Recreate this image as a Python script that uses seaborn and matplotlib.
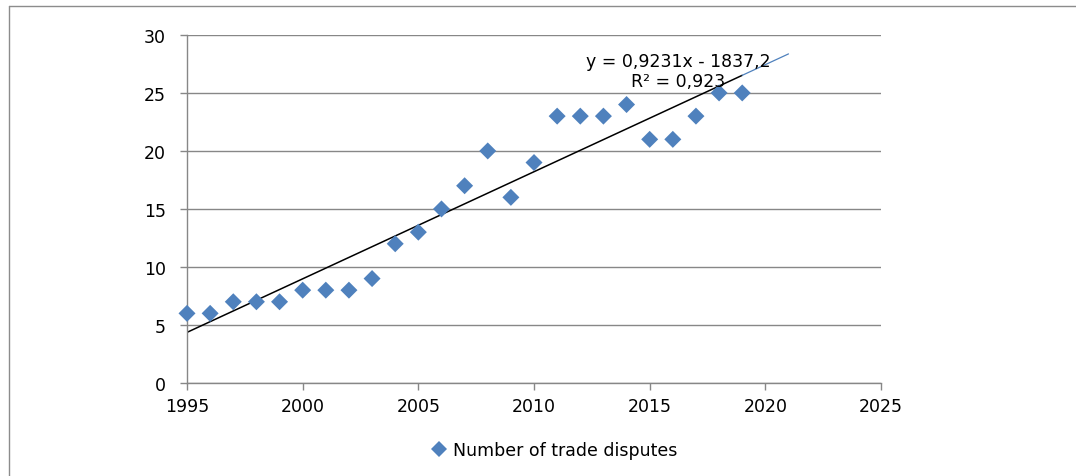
import numpy as np
import pandas as pd
import matplotlib
matplotlib.use("Agg")
import matplotlib.pyplot as plt
from matplotlib.lines import Line2D
import seaborn as sns

years = [1995, 1996, 1997, 1998, 1999, 2000, 2001, 2002, 2003, 2004, 2005, 2006,
         2007, 2008, 2009, 2010, 2011, 2012, 2013, 2014, 2015, 2016, 2017, 2018, 2019]
disputes = [6, 6, 7, 7, 7, 8, 8, 8, 9, 12, 13, 15, 17, 20, 16, 19, 23, 23, 23, 24,
            21, 21, 23, 25, 25]
series_label = "Number of trade disputes"
eq_text = "y = 0,9231x - 1837,2"
r2_text = "R² = 0,923"
x_ticks = [1995, 2000, 2005, 2010, 2015, 2020, 2025]
y_ticks = [0, 5, 10, 15, 20, 25, 30]

df = pd.DataFrame({"year": years, "value": disputes})

sns.set_theme(style="white")
plt.rcParams['font.family'] = ['DejaVu Sans']
plt.rcParams['text.color'] = 'black'

fig = plt.figure(figsize=(10.76, 4.77), dpi=100)
ax = fig.add_axes([0.1738, 0.195, 0.645, 0.7297])

gray = "#878787"
fs = 12.5
ax.set_xlim(1995, 2025)
ax.set_ylim(0, 30)
ax.set_xticks(x_ticks)
ax.set_yticks(y_ticks)
ax.grid(axis="y", color=gray, linewidth=1.0)
ax.set_axisbelow(True)

# trendline
slope, intercept = np.polyfit(df["year"], df["value"], 1)
tx = np.array([years[0], years[-1]])
ax.plot(tx, slope * tx + intercept, color="black", linewidth=1.1, zorder=2)
fx = np.array([years[-1], years[-1] + 2])
ax.plot(fx, slope * fx + intercept, color="#4F81BD", linewidth=0.9, zorder=2)

sns.scatterplot(data=df, x="year", y="value", marker="D", s=75, color="#4F81BD",
                edgecolor="none", ax=ax, zorder=3, label=series_label, clip_on=False)

for s in ["top", "right"]:
    ax.spines[s].set_visible(False)
for s in ["left", "bottom"]:
    ax.spines[s].set_color(gray)
    ax.spines[s].set_linewidth(1.0)
ax.tick_params(axis="both", which="both", direction="out", length=5, color=gray,
               width=1.0, labelsize=fs, labelcolor="black", left=True, bottom=True)
ax.tick_params(axis="y", pad=10)
ax.tick_params(axis="x", pad=5)
ax.set_xlabel("")
ax.set_ylabel("")

ax.text(2016.25, 27.75, eq_text, ha="center", va="center", fontsize=fs, color="black")
ax.text(2016.25, 26.05, r2_text, ha="center", va="center", fontsize=fs, color="black")

ax.legend_.remove()
handle = Line2D([], [], marker="D", linestyle="none", color="#4F81BD", markersize=8,
                markeredgewidth=0)
leg = fig.legend([handle], [series_label], loc="center", bbox_to_anchor=(0.515, 0.054),
                 frameon=False, fontsize=fs, handletextpad=0.3, handlelength=1.0)
for t in leg.get_texts():
    t.set_color("black")

# outer chart border
fig.add_artist(Line2D([9 / 1076, 9 / 1076], [0, 1 - 7 / 477], color="#8c8c8c",
                      linewidth=1.0, transform=fig.transFigure))
fig.add_artist(Line2D([9 / 1076, 1], [1 - 7 / 477, 1 - 7 / 477], color="#8c8c8c",
                      linewidth=1.0, transform=fig.transFigure))

fig.savefig("out.png", dpi=100)
